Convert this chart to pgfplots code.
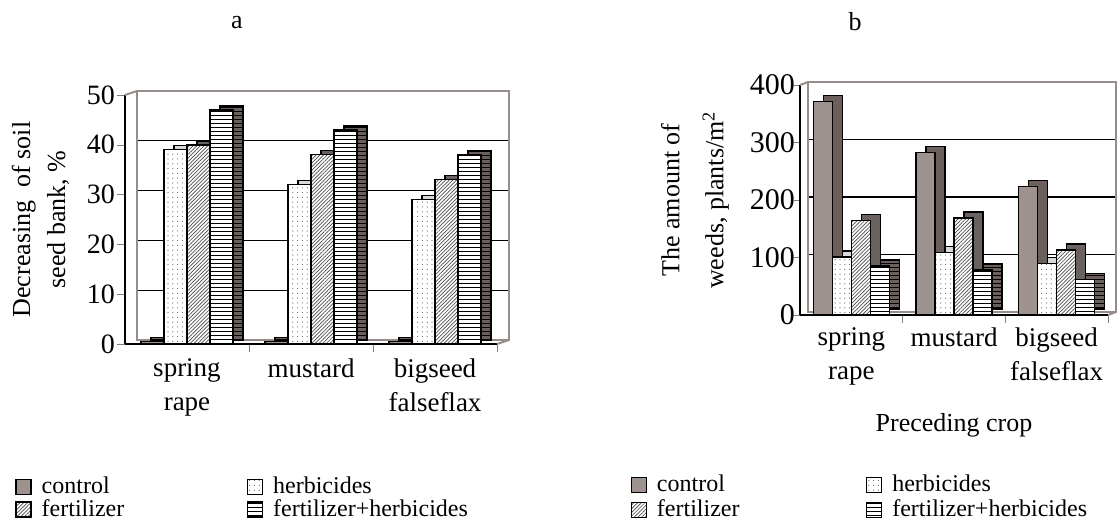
\documentclass[border=0pt]{standalone}
\usepackage{fontspec}
\setmainfont{Liberation Serif}
\usepackage{pgfplots}
\pgfplotsset{compat=1.18}
\usetikzlibrary{patterns.meta}

\definecolor{ctrl}{RGB}{158,146,143}
\definecolor{ctrldark}{RGB}{108,96,93}
\definecolor{wall}{RGB}{150,140,138}

\pgfplotsset{
  sq legend/.style={legend image code/.code={%
      \draw[##1,bar shift=0pt,yshift=0pt] (0pt,-3.75pt) rectangle (7.5pt,3.75pt);
      \path (11.5pt,0pt);}},
  ctrl/.style={fill=ctrl, draw=black, line width=0.7pt},
  herb/.style={fill=white, draw=black, line width=0.7pt,
    postaction={pattern={Dots[distance=2.4pt,radius=0.3pt]}, pattern color=black!60}},
  fert/.style={fill=white, draw=black, line width=0.7pt,
    postaction={pattern={Lines[angle=45,distance=1.3pt,line width=0.35pt]}, pattern color=black!70}},
  fh/.style={fill=white, draw=black, line width=0.7pt,
    postaction={pattern={Lines[angle=0,distance=2pt,line width=0.45pt]}, pattern color=black}},
  ctrl d/.style={fill=ctrldark, draw=black, line width=0.7pt},
  herb d/.style={fill=black!15, draw=black, line width=0.7pt},
  fert d/.style={fill=ctrldark, draw=black, line width=0.7pt,
    postaction={pattern={Lines[angle=45,distance=1.3pt,line width=0.35pt]}, pattern color=black!60}},
  fh d/.style={fill=ctrldark, draw=black, line width=0.7pt,
    postaction={pattern={Lines[angle=0,distance=2pt,line width=0.45pt]}, pattern color=black}},
  panel/.style={
    scale only axis, anchor=south west, ybar, clip=false,
    xmin=-0.5, xmax=2.5, ymin=0,
    axis lines=left, axis line style={-, line width=0.8pt},
    tick align=outside, major tick length=4pt, minor tick length=4pt,
    xtick={0,1,2}, minor xtick={0.5,1.5,2.5},
    major x tick style={draw=none},
    xticklabels={spring\\rape, mustard, bigseed\\falseflax},
    xticklabel style={align=center, font=\fontsize{13.5}{17}\selectfont},
    /pgf/number format/assume math mode=true,
    ymajorgrids,
    legend columns=2, legend cell align=left,
    every axis title shift=0pt,
    title style={anchor=center, font=\fontsize{13}{15}\selectfont},
  },
}

\begin{document}
\begin{tikzpicture}
\path[use as bounding box] (0,0) rectangle (559.5pt,259.5pt);

% a: soil seed bank
\begin{axis}[panel,
  at={(62.5pt,87.5pt)}, width=186pt, height=124.5pt,
  bar width=11.5pt, ymax=50, ytick={0,10,...,50},
  yticklabel style={font=\fontsize{14}{16}\selectfont, xshift=2.5pt},
  y grid style={black, line width=0.6pt, xshift=6pt, yshift=2pt},
  ylabel={Decreasing\ \ of soil\\seed bank, \%},
  ylabel style={align=center, font=\fontsize{13}{17.5}\selectfont,
    at={(axis description cs:-0.227,0.5)}, anchor=center},
  title={a}, title style={at={(axis description cs:0.301,1.293)}},
  legend style={at={(axis description cs:-0.312,-0.512)}, anchor=north west,
    draw=none, fill=none, font=\fontsize{12}{14}\selectfont,
    nodes={inner sep=1pt, text height=8pt, text depth=1.2pt}},
]
\draw[wall, line width=1pt] ([xshift=6pt,yshift=2pt]axis cs:-0.5,0) rectangle ([xshift=6pt,yshift=2pt]axis cs:2.5,50);
\draw[wall, line width=1pt] (axis cs:-0.5,50) -- ([xshift=6pt,yshift=2pt]axis cs:-0.5,50);
\draw[wall, line width=1pt] (axis cs:2.5,0) -- ([xshift=6pt,yshift=2pt]axis cs:2.5,0);

\addplot[ctrl d, bar shift=-12.25pt, yshift=2pt, forget plot] coordinates {(0,0.5) (1,0.5) (2,0.5)};
\addplot[ctrl, sq legend, bar shift=-17.25pt] coordinates {(0,0.5) (1,0.5) (2,0.5)};
\addlegendentry{\makebox[101.5pt][l]{control}}
\addplot[herb d, bar shift=-0.75pt, yshift=2pt, forget plot] coordinates {(0,39) (1,32) (2,29)};
\addplot[herb, sq legend, bar shift=-5.75pt] coordinates {(0,39) (1,32) (2,29)};
\addlegendentry{herbicides}
\addplot[fert d, bar shift=10.75pt, yshift=2pt, forget plot] coordinates {(0,40) (1,38) (2,33)};
\addplot[fert, sq legend, bar shift=5.75pt] coordinates {(0,40) (1,38) (2,33)};
\addlegendentry{\makebox[101.5pt][l]{fertilizer}}
\addplot[fh d, bar shift=22.25pt, yshift=2pt, forget plot] coordinates {(0,47) (1,43) (2,38)};
\addplot[fh, sq legend, bar shift=17.25pt] coordinates {(0,47) (1,43) (2,38)};
\addlegendentry{fertilizer+herbicides}
\end{axis}

% b: weeds
\begin{axis}[panel,
  at={(400pt,102pt)}, width=154pt, height=115pt,
  bar width=9.5pt, ymax=400, ytick={0,100,...,400},
  major tick length=3pt,
  yticklabel style={font=\fontsize{15}{17}\selectfont, xshift=4pt},
  y grid style={black, line width=0.6pt, xshift=4pt, yshift=1.5pt},
  ylabel={The amount of\\weeds, plants/m\textsuperscript{2}},
  ylabel style={align=center, font=\fontsize{13}{22}\selectfont,
    at={(axis description cs:-0.341,0.5)}, anchor=center},
  xlabel={Preceding crop},
  xlabel style={font=\fontsize{13}{15}\selectfont,
    at={(axis description cs:0.5,-0.478)}, anchor=center},
  title={b}, title style={at={(axis description cs:0.179,1.274)}},
  legend style={at={(axis description cs:-0.571,-0.665)}, anchor=north west,
    draw=none, fill=none, font=\fontsize{12}{14}\selectfont,
    nodes={inner sep=1pt, text height=8.5pt, text depth=2pt}},
]
\draw[wall, line width=1pt] ([xshift=4pt,yshift=1.5pt]axis cs:-0.5,0) rectangle ([xshift=4pt,yshift=1.5pt]axis cs:2.5,400);
\draw[wall, line width=1pt] (axis cs:-0.5,400) -- ([xshift=4pt,yshift=1.5pt]axis cs:-0.5,400);
\draw[wall, line width=1pt] (axis cs:2.5,0) -- ([xshift=4pt,yshift=1.5pt]axis cs:2.5,0);

\addplot[ctrl d, bar shift=-9.25pt, yshift=3pt, forget plot] coordinates {(0,371) (1,283) (2,224)};
\addplot[ctrl, sq legend, bar shift=-14.25pt] coordinates {(0,371) (1,283) (2,224)};
\addlegendentry{\makebox[103.5pt][l]{control}}
\addplot[herb d, bar shift=0.25pt, yshift=3pt, forget plot] coordinates {(0,101) (1,109) (2,90)};
\addplot[herb, sq legend, bar shift=-4.75pt] coordinates {(0,101) (1,109) (2,90)};
\addlegendentry{herbicides}
\addplot[fert d, bar shift=9.75pt, yshift=3pt, forget plot] coordinates {(0,164) (1,169) (2,113)};
\addplot[fert, sq legend, bar shift=4.75pt] coordinates {(0,164) (1,169) (2,113)};
\addlegendentry{\makebox[103.5pt][l]{fertilizer}}
\addplot[fh d, bar shift=19.25pt, yshift=3pt, forget plot] coordinates {(0,85) (1,78) (2,62)};
\addplot[fh, sq legend, bar shift=14.25pt] coordinates {(0,85) (1,78) (2,62)};
\addlegendentry{fertilizer+herbicides}
\end{axis}
\end{tikzpicture}
\end{document}
